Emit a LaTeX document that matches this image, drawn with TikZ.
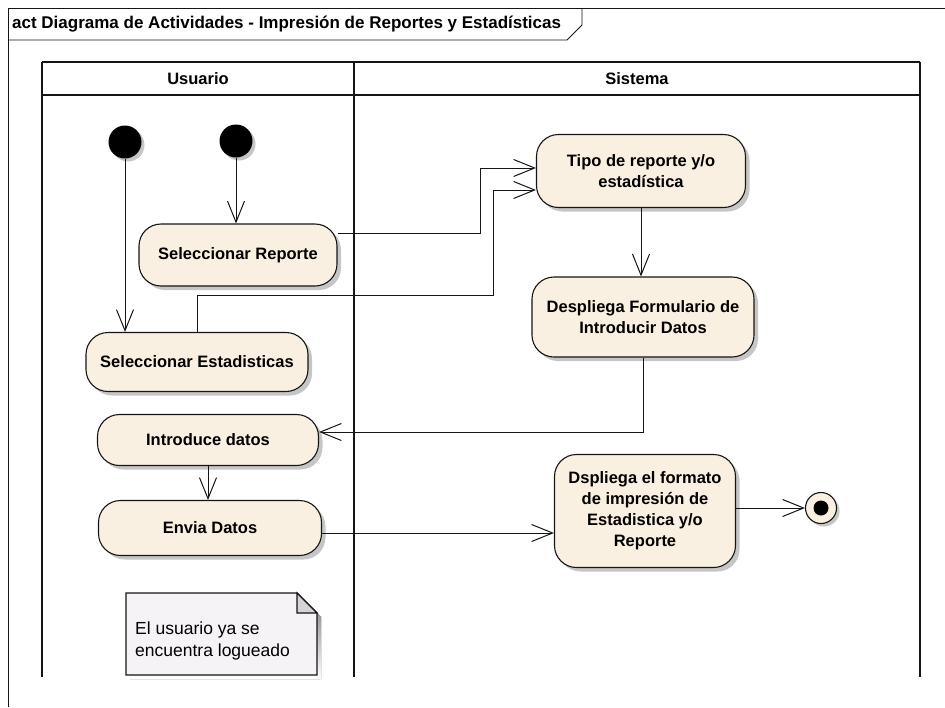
\documentclass[tikz,border=0pt]{standalone}
\usepackage{fontspec}
\setmainfont{Liberation Sans}
\usetikzlibrary{positioning,shadows,arrows.meta,calc}
\definecolor{dark}{HTML}{151515}
\definecolor{actfill}{HTML}{FAF0E2}
\definecolor{notefill}{HTML}{F6F3F6}
\definecolor{notefold}{HTML}{D6D2D6}
\definecolor{shade}{HTML}{C6C6C6}

\tikzset{
  actbox/.style={rounded corners=22pt, draw=dark, line width=1.1pt, fill=actfill, align=center,
    inner sep=3pt, font=\bfseries\fontsize{16.5}{21}\selectfont,
    drop shadow={shadow xshift=4pt, shadow yshift=-4pt, fill=shade, opacity=1}},
  startnode/.style={circle, fill=black, minimum size=33pt, inner sep=0pt,
    drop shadow={shadow xshift=3pt, shadow yshift=-3pt, fill=shade, opacity=1}},
  endnode/.style={circle, draw=dark, line width=1.1pt, fill=actfill, minimum size=31pt, inner sep=0pt,
    drop shadow={shadow xshift=3pt, shadow yshift=-3pt, fill=shade, opacity=1}},
  lanehead/.style={font=\bfseries\fontsize{16.5}{20}\selectfont, inner sep=0pt},
  lane/.style={draw=dark, line width=1.6pt},
  flow/.style={draw=dark, line width=1pt, -{Straight Barb[length=21pt,width=17pt]}},
}

\begin{document}
\begin{tikzpicture}[x=1pt,y=-1pt]
  \useasboundingbox (0,0) rectangle (945,707);

  % frame and title tab
  \draw[dark, line width=0.8pt] (8,707) -- (8,8) -- (945,8);
  \draw[dark, line width=0.8pt] (8,40) -- (567,40) -- (582,25) -- (582,8);
  \node[anchor=west, inner sep=0pt, font=\bfseries\fontsize{17}{20}\selectfont] (title) at (12,24)
    {act Diagrama de Actividades - Impresión de Reportes y Estadísticas};

  % swimlanes
  \draw[lane] (42,62) -- (920,62);
  \draw[lane] (42,95) -- (920,95);
  \foreach \xl in {42,354,920}
    \draw[lane] (\xl,62) -- (\xl,677);
  \node[lanehead] (usuario) at (198,79) {Usuario};
  \node[lanehead] (sistema) at (637,79) {Sistema};

  % Usuario
  \node[startnode] (ini1) at (125,142) {};
  \node[startnode] (ini2) at (236,141) {};
  \node[actbox, minimum width=198pt, minimum height=62pt] (selrep) at (238,255) {Seleccionar Reporte};
  \node[actbox, minimum width=222pt, minimum height=59pt] (selest) at (197,362) {Seleccionar Estadisticas};
  \node[actbox, minimum width=221pt, minimum height=51pt] (intro) at (208,440) {Introduce datos};
  \node[actbox, minimum width=223pt, minimum height=55pt] (envia) at (210,528) {Envia Datos};

  % Sistema
  \node[actbox, minimum width=209pt, minimum height=73pt] (tipo) at (641,171) {Tipo de reporte y/o\\estadística};
  \node[actbox, minimum width=222pt, minimum height=80pt] (despl) at (643,317) {Despliega Formulario de\\Introducir Datos};
  \node[actbox, minimum width=181pt, minimum height=113pt] (dspl) at (645,511)
    {Dspliega el formato\\de impresión de\\Estadistica y/o\\Reporte};
  \node[endnode] (fin) at (821,508) {};
  \fill[black] (fin) circle[radius=7.5];

  % note
  \coordinate (notenw) at (126,593);
  \coordinate (notese) at (317,675);
  \fill[shade] ($(notenw)+(4,4)$) -- ($(notese|-notenw)+(-16,4)$) -- ($(notese|-notenw)+(4,24)$)
    -- ($(notese)+(4,4)$) -- ($(notenw|-notese)+(4,4)$) -- cycle;
  \filldraw[draw=dark, line width=1.1pt, fill=notefill] (notenw) -- ($(notese|-notenw)+(-20,0)$)
    -- ($(notese|-notenw)+(0,20)$) -- (notese) -- (notenw|-notese) -- cycle;
  \filldraw[draw=dark, line width=1.1pt, fill=notefold] ($(notese|-notenw)+(-20,0)$)
    -- ($(notese|-notenw)+(-20,20)$) -- ($(notese|-notenw)+(0,20)$) -- cycle;
  \node[anchor=west, align=left, inner sep=0pt, font=\fontsize{17.5}{22}\selectfont] (notetext) at (135,641)
    {El usuario ya se\\encuentra logueado};

  % flows
  \draw[flow] (ini1) -- (ini1 |- selest.north);
  \draw[flow] (ini2) -- (ini2 |- selrep.north);
  \draw[flow] ([yshift=22pt]selrep.east) -- ++(143,0) |- ([yshift=3pt]tipo.west);
  \draw[flow] (selest.north) -- ++(0,-36) -- ++(296,0) |- ([yshift=-19pt]tipo.west);
  \draw[flow] (tipo) -- (tipo |- despl.north);
  \draw[flow] (despl.south) |- ([yshift=8pt]intro.east);
  \draw[flow] (intro) -- (intro |- envia.north);
  \coordinate (envout) at ([yshift=-5pt]envia.east);
  \draw[flow] (envout) -- (envout -| dspl.west);
  \draw[flow] (fin -| dspl.east) -- (fin);
\end{tikzpicture}
\end{document}
